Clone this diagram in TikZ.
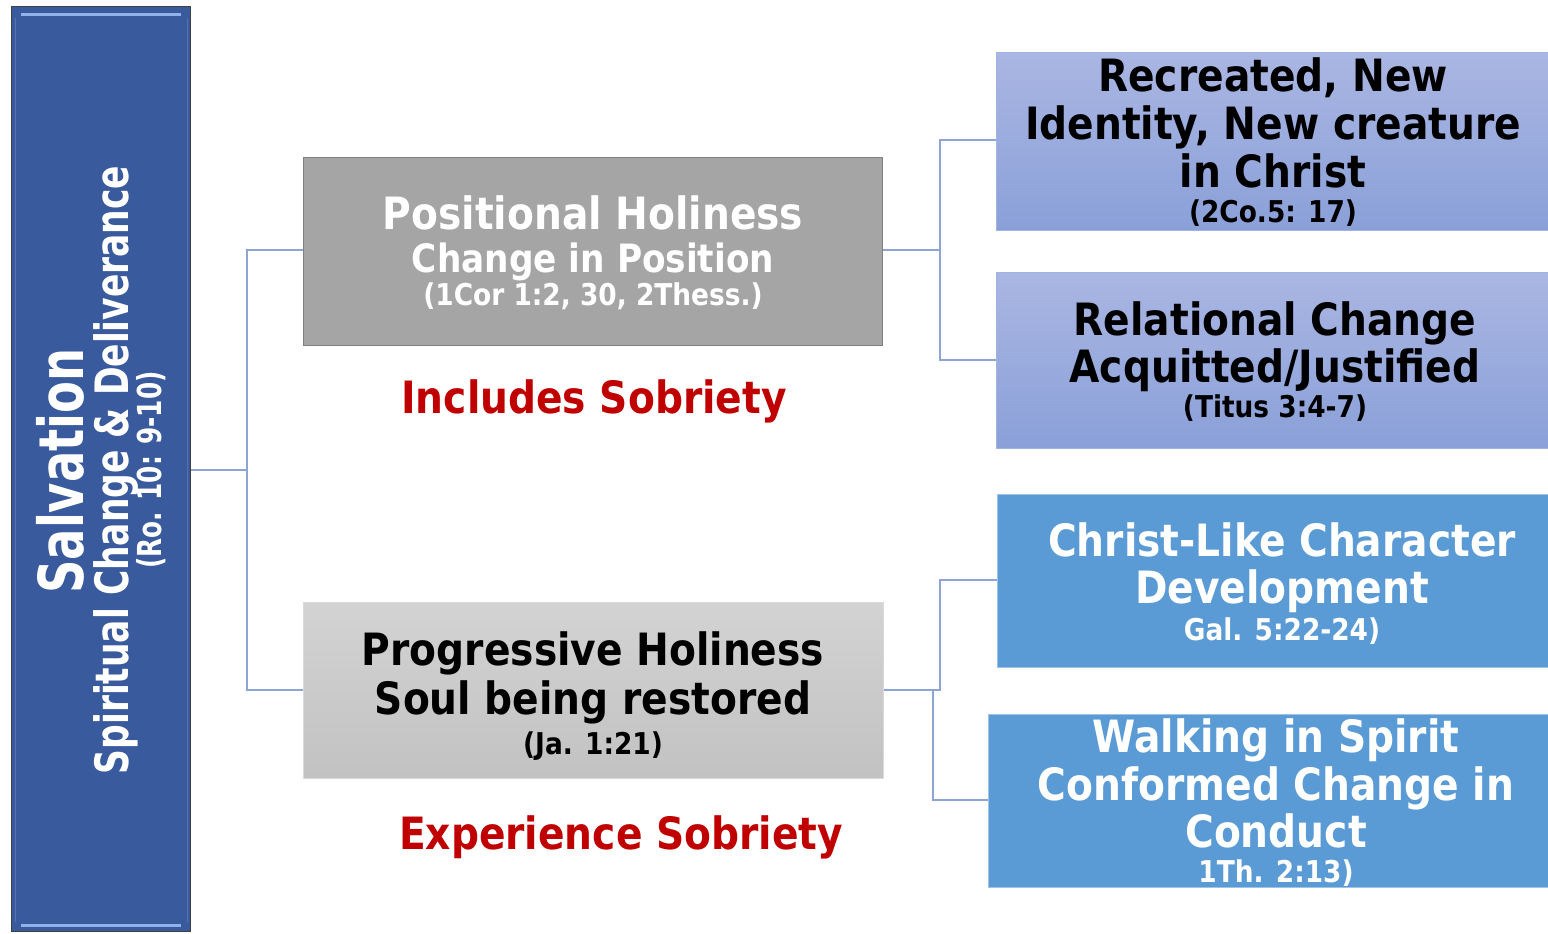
\documentclass[tikz,border=0pt]{standalone}
\usepackage{fontspec}
\setmainfont{DejaVu Sans}[FakeStretch=0.88]
\newfontfamily\narrowf{DejaVu Sans}[FakeStretch=0.75]
\definecolor{salblue}{HTML}{3A5A9E}
\definecolor{posgray}{HTML}{A5A5A5}
\definecolor{lavtop}{HTML}{AAB6E3}
\definecolor{lavbot}{HTML}{8AA0D8}
\definecolor{progtop}{HTML}{D3D3D3}
\definecolor{progbot}{HTML}{C2C2C2}
\definecolor{midblue}{HTML}{5B9BD5}
\definecolor{sobred}{HTML}{C00000}
\definecolor{conn}{HTML}{8EA4D2}
\definecolor{bevel}{HTML}{8FB2EA}
\tikzset{
  box/.style={draw, line width=1.2pt, inner sep=0pt, anchor=north west},
  txt/.style={anchor=base, inner sep=0pt, font=\bfseries},
  big/.style={txt, font=\bfseries\fontsize{44.5}{48}\selectfont},
  mid/.style={txt, font=\bfseries\fontsize{39}{44}\selectfont},
  ref/.style={txt, font=\bfseries\fontsize{30}{34}\selectfont},
  link/.style={draw=conn, line width=1.3pt},
}
\begin{document}
\begin{tikzpicture}[x=1pt,y=-1pt]
\useasboundingbox (0,0) rectangle (1548,934);
% left box
\node[box, draw=black!75, fill=salblue, minimum width=179pt, minimum height=925pt] (sal) at (11,6) {};
\draw[bevel, line width=3pt] ([xshift=10pt,yshift=-9pt]sal.north west) -- ([xshift=-10pt,yshift=-9pt]sal.north east);
\draw[bevel, line width=3pt] ([xshift=10pt,yshift=7pt]sal.south west) -- ([xshift=-10pt,yshift=7pt]sal.south east);
\draw[salblue!85!white, line width=1pt] ([xshift=4pt,yshift=-12pt]sal.north west) -- ([xshift=4pt,yshift=10pt]sal.south west);
\draw[salblue!85!white, line width=1pt] ([xshift=-4pt,yshift=-12pt]sal.north east) -- ([xshift=-4pt,yshift=10pt]sal.south east);
\node[txt, rotate=90, text=white, font=\narrowf\bfseries\fontsize{62}{62}\selectfont] (sal1) at (83,471) {Salvation};
\node[txt, rotate=90, text=white, font=\narrowf\bfseries\fontsize{46}{46}\selectfont] (sal2) at (128,470) {Spiritual Change \& Deliverance};
\node[txt, rotate=90, text=white, font=\narrowf\bfseries\fontsize{33}{33}\selectfont] (sal3) at (161,470) {(Ro. 10: 9-10)};

% middle boxes
\node[box, draw=black!50, fill=posgray, minimum width=579pt, minimum height=188pt] (pos) at (303,157) {};
\node[big, text=white] (pos1) at (593,229) {Positional Holiness};
\node[mid, text=white] (pos2) at (593,272) {Change in Position};
\node[ref, text=white] (pos3) at (593,305) {(1Cor 1:2, 30, 2Thess.)};
\node[big, text=sobred] (inc) at (594,413) {Includes Sobriety};

\node[box, draw=black!15, top color=progtop, bottom color=progbot, minimum width=580pt, minimum height=176pt] (prog) at (303,602) {};
\node[big] (prog1) at (593,665) {Progressive Holiness};
\node[big] (prog2) at (593,714) {Soul being restored};
\node[ref] (prog3) at (593,754) {(Ja. 1:21)};
\node[big, text=sobred] (exp) at (621,849) {Experience Sobriety};

% right boxes
\node[box, draw=lavbot!80!white, top color=lavtop, bottom color=lavbot, minimum width=560pt, minimum height=178pt] (rec) at (996,52) {};
\node[big] (rec1) at (1273,92) {Recreated, New};
\node[big] (rec2) at (1273,139) {Identity, New creature};
\node[big] (rec3) at (1273,187) {in Christ};
\node[ref] (rec4) at (1273,222) {(2Co.5: 17)};

\node[box, draw=lavbot!80!white, top color=lavtop, bottom color=lavbot, minimum width=560pt, minimum height=176pt] (rel) at (996,272) {};
\node[big] (rel1) at (1275,335) {Relational Change};
\node[big] (rel2) at (1275,382) {Acquitted/Justified};
\node[ref] (rel3) at (1275,417) {(Titus 3:4-7)};

\node[box, draw=midblue!60!white, fill=midblue, minimum width=560pt, minimum height=173pt] (chr) at (997,494) {};
\node[big, text=white] (chr1) at (1282,556) {Christ-Like Character};
\node[big, text=white] (chr2) at (1282,603) {Development};
\node[ref, text=white] (chr3) at (1282,640) {Gal. 5:22-24)};

\node[box, draw=midblue!60!white, fill=midblue, minimum width=570pt, minimum height=173pt] (walk) at (988,714) {};
\node[big, text=white] (walk1) at (1276,752) {Walking in Spirit};
\node[big, text=white] (walk2) at (1276,800) {Conformed Change in};
\node[big, text=white] (walk3) at (1276,847) {Conduct};
\node[ref, text=white] (walk4) at (1276,882) {1Th. 2:13)};

% connectors
\coordinate (j0) at (247,470);
\draw[link] (sal.east |- j0) -- (j0);
\draw[link] (j0) |- (pos.west |- 0,250);
\draw[link] (j0) |- (prog.west |- 0,690);

\coordinate (j1) at (940,250);
\draw[link] (pos.east |- j1) -- (j1);
\draw[link] (j1) |- (rec.west |- 0,140);
\draw[link] (j1) |- (rel.west |- 0,360);

\coordinate (j2) at (940,690);
\coordinate (j3) at (933,690);
\draw[link] (prog.east |- j2) -- (j2) |- (chr.west |- 0,580);
\draw[link] (j3) |- (walk.west |- 0,800);
\end{tikzpicture}
\end{document}
